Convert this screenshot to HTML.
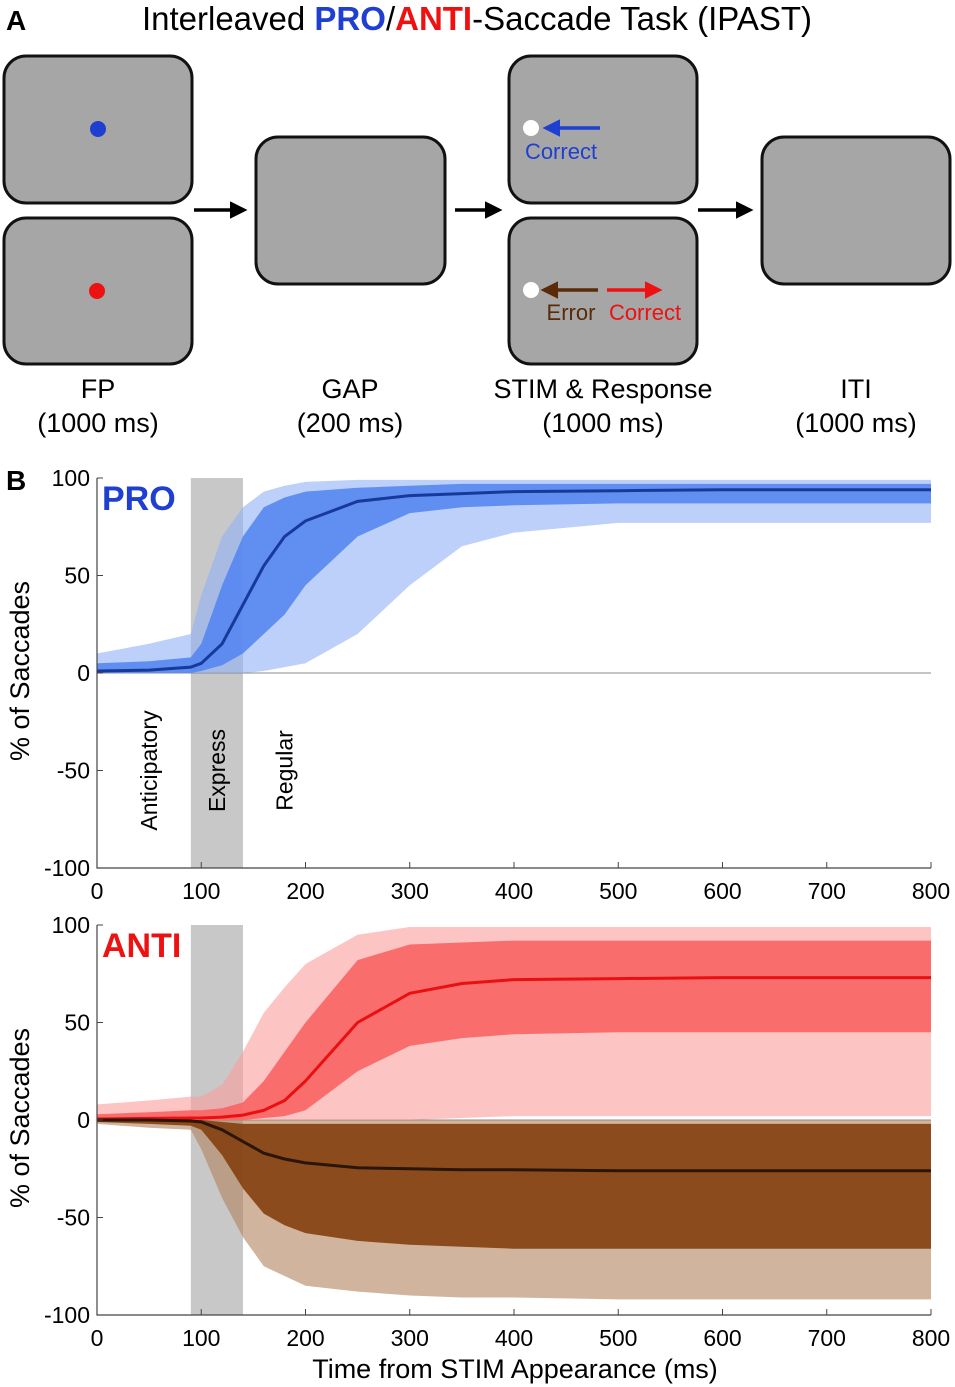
<!DOCTYPE html>
<html><head><meta charset="utf-8"><style>
html,body{margin:0;padding:0;background:#fff;}
svg{display:block;font-family:"Liberation Sans",Arial,sans-serif;}
</style></head><body>
<svg id="fig" width="955" height="1387" viewBox="0 0 955 1387" xmlns="http://www.w3.org/2000/svg">
<defs>
<marker id="ab" markerWidth="5" markerHeight="5" refX="4" refY="2.5" orient="auto"><path d="M0,0 L5,2.5 L0,5 z" fill="#000"/></marker>
<marker id="abl" markerWidth="5" markerHeight="5" refX="4" refY="2.5" orient="auto"><path d="M0,0 L5,2.5 L0,5 z" fill="#1f3fd0"/></marker>
<marker id="abr" markerWidth="5" markerHeight="5" refX="4" refY="2.5" orient="auto"><path d="M0,0 L5,2.5 L0,5 z" fill="#5a2a0a"/></marker>
<marker id="ard" markerWidth="5" markerHeight="5" refX="4" refY="2.5" orient="auto"><path d="M0,0 L5,2.5 L0,5 z" fill="#ee1111"/></marker>
</defs>
<text x="6" y="30" font-size="28" font-weight="bold">A</text>
<text x="477" y="30" font-size="33" text-anchor="middle">Interleaved <tspan fill="#1f3fd0" font-weight="bold">PRO</tspan>/<tspan fill="#ee1111" font-weight="bold">ANTI</tspan>-Saccade Task (IPAST)</text>
<g stroke="#111" stroke-width="3" fill="#a6a6a6">
<rect x="4" y="56" width="188" height="147" rx="22"/>
<rect x="4" y="218" width="188" height="146" rx="22"/>
<rect x="256" y="137" width="189" height="147" rx="22"/>
<rect x="509" y="56" width="188" height="147" rx="22"/>
<rect x="509" y="218" width="188" height="146" rx="22"/>
<rect x="762" y="137" width="188" height="147" rx="22"/>
</g>
<circle cx="98" cy="129" r="8" fill="#1f3fd0"/>
<circle cx="97" cy="291" r="8" fill="#ee1111"/>
<g stroke="#000" stroke-width="3.5">
<line x1="194" y1="210" x2="244" y2="210" marker-end="url(#ab)"/>
<line x1="455" y1="210" x2="499" y2="210" marker-end="url(#ab)"/>
<line x1="698" y1="210" x2="750" y2="210" marker-end="url(#ab)"/>
</g>
<circle cx="531" cy="128" r="8" fill="#fff"/>
<line x1="600" y1="128" x2="546" y2="128" stroke="#1f3fd0" stroke-width="3.5" marker-end="url(#abl)"/>
<text x="561" y="159" font-size="22" fill="#1f3fd0" text-anchor="middle">Correct</text>
<circle cx="531" cy="290" r="8" fill="#fff"/>
<line x1="598" y1="290" x2="544" y2="290" stroke="#5a2a0a" stroke-width="3.5" marker-end="url(#abr)"/>
<line x1="607" y1="290" x2="659" y2="290" stroke="#ee1111" stroke-width="3.5" marker-end="url(#ard)"/>
<text x="571" y="320" font-size="22" fill="#5a2a0a" text-anchor="middle">Error</text>
<text x="645" y="320" font-size="22" fill="#ee1111" text-anchor="middle">Correct</text>
<g font-size="27" text-anchor="middle">
<text x="98" y="398">FP</text>
<text x="98" y="432">(1000 ms)</text>
<text x="350" y="398">GAP</text>
<text x="350" y="432">(200 ms)</text>
<text x="603" y="398">STIM &amp; Response</text>
<text x="603" y="432">(1000 ms)</text>
<text x="856" y="398">ITI</text>
<text x="856" y="432">(1000 ms)</text>
</g>
<text x="6" y="490" font-size="28" font-weight="bold">B</text>
<g id="charts"></g>
</svg>
<script>
const times = [0,50,90,100,120,140,160,180,200,250,300,350,400,500,600,800];
const proMean   = [1,1.5,3,5,15,35,55,70,78,88,91,92,93,93.5,94,94];
const proUpper  = [10,15,20,40,70,85,93,96,98,99,99,99,99,99,99,99];
const proLower  = [0,0,0,0,0,0,1,3,5,20,45,65,72,77,77,77];
const proCoreU  = [5,6,8,15,45,70,85,90,93,95,96,97,97,97,97,97];
const proCoreL  = [0,0,0,1,4,10,20,30,45,70,82,85,86,87,87,87];
const antiMean  = [0.5,0.8,1,1,1.5,2.5,5,10,20,50,65,70,72,72.5,73,73];
const antiUpper = [8,10,12,12,18,35,55,68,80,95,99,99,99,99,99,99];
const antiLower = [0,0,0,0,0,0,0,0,0,0,0,1,2,2,2,2];
const antiCoreU = [3,4,5,5,6,9,20,35,50,82,90,91,92,92,92,92];
const antiCoreL = [0,0,0,0,0,0,1,2,5,25,38,42,44,45,45,45];
const errMean   = [0,0,-0.5,-1,-5,-11,-17,-20,-22,-24.5,-25,-25.5,-25.5,-26,-26,-26];
const errUpper  = [0,0,0,0,0,0,0,0,0,0,0,0,0,0,0,0];
const errLower  = [-2,-4,-5,-15,-40,-60,-75,-80,-85,-88,-90,-91,-91,-92,-92,-92];
const errCoreU  = [0,0,0,0,-1,-2,-2,-2,-2,-2,-2,-2,-2,-2,-2,-2];
const errCoreL  = [-1,-2,-3,-5,-18,-35,-48,-54,-58,-62,-64,-65,-66,-66,-66,-66];
const xTicks = [0,100,200,300,400,500,600,700,800];
const yTicks = [-100,-50,0,50,100];
const phaseLabels = ["Anticipatory","Express","Regular"];
const phaseTimes = [50,115,180];
const expressBand = [90,140];

const NS="http://www.w3.org/2000/svg";
const root=document.getElementById('charts');
function mk(tag,attrs,parent){const e=document.createElementNS(NS,tag);for(const k in attrs)e.setAttribute(k,attrs[k]);(parent||root).appendChild(e);return e;}
function xs(t){return 97+t*(834/800);}
function makeY(top){return v=>top+(100-v)*1.95;}
function linePath(arr,ys){return times.map((t,i)=>(i?'L':'M')+xs(t).toFixed(1)+','+ys(arr[i]).toFixed(1)).join(' ');}
function bandPath(up,lo,ys){let d=linePath(up,ys);for(let i=times.length-1;i>=0;i--)d+=' L'+xs(times[i]).toFixed(1)+','+ys(lo[i]).toFixed(1);return d+' Z';}

function panel(top,name,labelText,labelColor,series){
  const ys=makeY(top);
  const g=mk('g',{});
  
  
  const band=mk('rect',{x:xs(expressBand[0]),y:ys(100),width:xs(expressBand[1])-xs(expressBand[0]),height:ys(-100)-ys(100),fill:'#c8c8c8'},g);
  
  
  const z=mk('line',{x1:xs(0),x2:xs(800),y1:ys(0),y2:ys(0),stroke:'#888','stroke-width':1},g);
  
  
  series.forEach(s=>{
    const o=mk('path',{d:bandPath(s.up,s.lo,ys),fill:s.light,opacity:0.6},g);
    
    
    const c=mk('path',{d:bandPath(s.cu,s.cl,ys),fill:s.fill,opacity:0.9},g);
    
    
  });
  series.forEach(s=>{
    const m=mk('path',{d:linePath(s.mean,ys),fill:'none',stroke:s.dark,'stroke-width':3},g);
    
    
  });
  const ax=mk('path',{d:`M${xs(0)},${ys(100)} L${xs(0)},${ys(-100)} L${xs(800)},${ys(-100)}`,fill:'none',stroke:'#444','stroke-width':1.2},g);
  
  
  xTicks.forEach(t=>{
    mk('line',{x1:xs(t),x2:xs(t),y1:ys(-100),y2:ys(-100)-6,stroke:'#444'},g);
    const tl=mk('text',{x:xs(t),y:ys(-100)+31,'font-size':23,'text-anchor':'middle'},g);
    tl.textContent=t;
    
    
  });
  yTicks.forEach(v=>{
    mk('line',{x1:xs(0),x2:xs(0)+6,y1:ys(v),y2:ys(v),stroke:'#444'},g);
    const tl=mk('text',{x:90,y:ys(v)+8,'font-size':23,'text-anchor':'end'},g);
    tl.textContent=v;
    
    
  });
  const yt=mk('text',{x:29,y:ys(0)-2,'font-size':27,'text-anchor':'middle',transform:`rotate(-90 29 ${ys(0)-2})`},g);
  yt.textContent='% of Saccades';
  
  
  const lb=mk('text',{x:102,y:ys(100)+32,'font-size':34,'font-weight':'bold',fill:labelColor},g);
  lb.textContent=labelText;
  
  
  return {g,ys};
}

const p1=panel(478,'pro-chart','PRO','#1f3fd0',[
 {name:'pro',mean:proMean,up:proUpper,lo:proLower,cu:proCoreU,cl:proCoreL,light:'#8fb0f5',fill:'#5686f0',dark:'#173a9a'}]);
phaseLabels.forEach((l,i)=>{
  const x=xs(phaseTimes[i])+8, y=p1.ys(-50);
  const t=mk('text',{x:x,y:y,'font-size':23,'text-anchor':'middle',transform:`rotate(-90 ${x} ${y})`},p1.g);
  t.textContent=l;
  
  
});
panel(925,'anti-chart','ANTI','#ee1111',[
 {name:'anti-correct',mean:antiMean,up:antiUpper,lo:antiLower,cu:antiCoreU,cl:antiCoreL,light:'#fb9c9c',fill:'#f86464',dark:'#e81010'},
 {name:'anti-error',mean:errMean,up:errUpper,lo:errLower,cu:errCoreU,cl:errCoreL,light:'#b3825c',fill:'#843f0e',dark:'#2a1608'}]);
const xt=mk('text',{x:515,y:1378,'font-size':27,'text-anchor':'middle'});
xt.textContent='Time from STIM Appearance (ms)';


</script>
</body></html>
